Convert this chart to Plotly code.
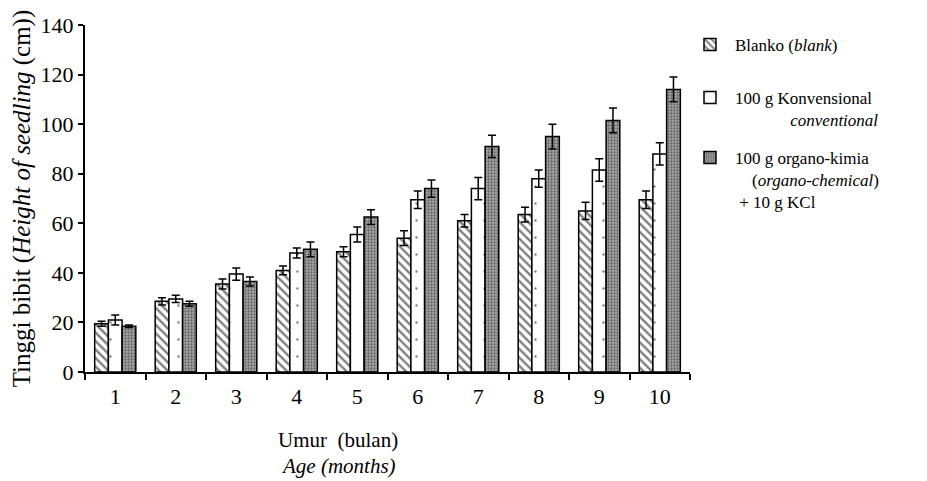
import plotly.graph_objects as go

months = ["1", "2", "3", "4", "5", "6", "7", "8", "9", "10"]
blanko = [19.5, 28.5, 35.5, 41, 48.5, 54, 61, 63.5, 65, 69.5]
blanko_err = [1, 1.5, 2, 1.8, 2, 3, 2.5, 3, 3.5, 3.5]
konv = [21, 29.5, 39.5, 48, 55.5, 69.5, 74, 78, 81.5, 88]
konv_err = [2, 1.5, 2.5, 2, 3, 3.5, 4.5, 3.5, 4.5, 4.5]
organo = [18.5, 27.5, 36.5, 49.5, 62.5, 74, 91, 95, 101.5, 114]
organo_err = [0.5, 1, 1.8, 3, 3, 3.5, 4.5, 5, 5, 5]

names = [
    "Blanko (<i>blank</i>)",
    "100 g Konvensional<br>" + "\u00a0" * 13 + "<i>conventional</i>",
    "100 g organo-kimia<br>" + "\u00a0" * 4 + "(<i>organo-chemical</i>)<br>\u00a0+ 10 g KCl",
]

FONT = "Liberation Serif, Times New Roman, serif"

W, H = 927, 481
OFF = 8  # page body margin: screen = figure + OFF
# desired plot area on screen
SX0, SX1, SY0, SY1 = 85, 690, 25, 372
L, T = SX0 - OFF, SY0 - OFF
R, B = W - (SX1 - OFF), H - (SY1 - OFF)
PW, PH = W - L - R, H - T - B

def px_x(xs):
    return (xs - OFF - L) / PW

def px_y(ys):
    return (H - B - (ys - OFF)) / PH

def err(vals):
    return dict(type="data", array=vals, visible=True, color="black", thickness=1.5, width=4)

fig = go.Figure()
fig.add_trace(go.Bar(
    x=months, y=blanko, name=names[0], error_y=err(blanko_err), legend="legend",
    marker=dict(color="white", line=dict(color="black", width=1.5),
                pattern=dict(shape="\\", fgcolor="black", bgcolor="white", size=6, solidity=0.4)),
))
fig.add_trace(go.Bar(
    x=months, y=konv, name=names[1], error_y=err(konv_err), legend="legend2",
    marker=dict(color="white", line=dict(color="black", width=1.5),
                pattern=dict(shape=".", fgcolor="black", bgcolor="white", size=17, solidity=0.015)),
))
fig.add_trace(go.Bar(
    x=months, y=organo, name=names[2], error_y=err(organo_err), legend="legend3",
    marker=dict(color="#909090", line=dict(color="black", width=1.5),
                pattern=dict(shape=".", fgcolor="#202020", bgcolor="#a8a8a8", size=3, solidity=0.45)),
))

def leg(ytext):
    return dict(x=px_x(685), y=px_y(ytext - 18), xanchor="left", yanchor="top",
                font=dict(family=FONT, size=17, color="black"), valign="top",
                bgcolor="rgba(0,0,0,0)", itemwidth=40)

fig.update_layout(
    width=W, height=H,
    margin=dict(l=L, r=R, t=T, b=B, autoexpand=False),
    paper_bgcolor="white", plot_bgcolor="white",
    barmode="group", bargap=0.32, bargroupgap=0,
    font=dict(family=FONT, size=22, color="black"),
    showlegend=True,
    legend=leg(45), legend2=leg(98), legend3=leg(158),
    xaxis=dict(type="category", showline=True, linecolor="black", linewidth=2,
               ticks="outside", tickson="boundaries", ticklen=6, tickwidth=1.5,
               tickcolor="black", showgrid=False, zeroline=False, automargin=False,
               ticklabelstandoff=4, tickfont=dict(family=FONT, size=22)),
    yaxis=dict(range=[0, 140], dtick=20, showline=True, linecolor="black", linewidth=2,
               ticks="outside", ticklen=5, tickwidth=1.5, tickcolor="black",
               showgrid=False, zeroline=False, automargin=False,
               tickfont=dict(family=FONT, size=22),
               title=dict(text="Tinggi bibit (<i>Height of seedling</i> (cm))",
                          font=dict(family=FONT, size=25), standoff=4)),
)

fig.add_annotation(x=px_x(338), y=px_y(440), xref="paper", yref="paper", text="Umur  (bulan)",
                   showarrow=False, xanchor="center", yanchor="middle",
                   font=dict(family=FONT, size=21))
fig.add_annotation(x=px_x(338), y=px_y(466), xref="paper", yref="paper", text="<i>Age (months)</i>",
                   showarrow=False, xanchor="center", yanchor="middle",
                   font=dict(family=FONT, size=21))

fig.write_html("out.html")
